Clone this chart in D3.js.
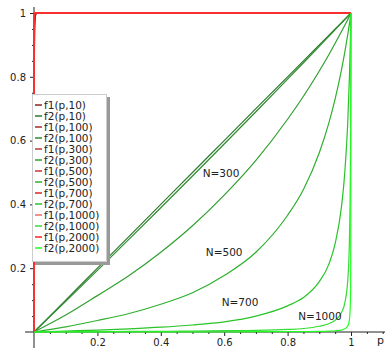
<!DOCTYPE html>
<html>
<head>
<meta charset="utf-8">
<script src="https://cdn.jsdelivr.net/npm/d3@7"></script>
<style>
  body { margin: 0; background: #fff; }
  svg { display: block; font-family: "DejaVu Sans", sans-serif; }
</style>
</head>
<body>
<div id="chart"></div>
<script>
// N values of the curves
const nValues = [10, 100, 300, 500, 700, 1000, 2000];

// p grid for f1 (all jump up right at p = 0)
const pF1 = [0, 0.0002, 0.0005, 0.001, 0.002, 0.004, 0.008, 1];
const f1Values = [
  [0, 0.35, 0.6, 0.85, 0.95, 0.99, 1, 1],
  [0, 0.45, 0.7, 0.9, 0.97, 1, 1, 1],
  [0, 0.55, 0.8, 0.95, 0.99, 1, 1, 1],
  [0, 0.65, 0.88, 0.97, 1, 1, 1, 1],
  [0, 0.75, 0.92, 0.99, 1, 1, 1, 1],
  [0, 0.85, 0.96, 1, 1, 1, 1, 1],
  [0, 0.95, 0.99, 1, 1, 1, 1, 1]
];

// p grid for f2
const pF2 = [0, 0.1, 0.2, 0.3, 0.4, 0.5, 0.6, 0.7, 0.8, 0.85, 0.9, 0.93, 0.95, 0.97, 0.98, 0.99, 0.995, 0.998, 0.999, 1];
const f2Values = [
  [0, 0.1, 0.2, 0.3, 0.4, 0.5, 0.6, 0.7, 0.8, 0.85, 0.9, 0.93, 0.95, 0.97, 0.98, 0.99, 0.995, 0.998, 0.999, 1],
  [0, 0.0962, 0.1932, 0.291, 0.3896, 0.489, 0.5893, 0.6905, 0.7927, 0.8441, 0.8958, 0.9268, 0.9477, 0.9685, 0.979, 0.9895, 0.9947, 0.9979, 0.999, 1],
  [0, 0.053, 0.114, 0.177, 0.25, 0.333, 0.429, 0.538, 0.667, 0.739, 0.818, 0.869, 0.905, 0.942, 0.961, 0.98, 0.99, 0.996, 0.998, 1],
  [0, 0.016, 0.036, 0.058, 0.087, 0.123, 0.177, 0.25, 0.366, 0.447, 0.562, 0.655, 0.731, 0.822, 0.875, 0.934, 0.966, 0.986, 0.993, 1],
  [0, 0.003, 0.006, 0.01, 0.015, 0.022, 0.032, 0.05, 0.082, 0.108, 0.158, 0.212, 0.277, 0.393, 0.495, 0.664, 0.799, 0.909, 0.952, 1],
  [0, 0.001, 0.001, 0.002, 0.002, 0.003, 0.004, 0.005, 0.008, 0.011, 0.018, 0.026, 0.037, 0.061, 0.089, 0.165, 0.285, 0.5, 0.666, 1],
  [0, 0, 0, 0, 0, 0, 0, 0.001, 0.001, 0.001, 0.002, 0.003, 0.004, 0.006, 0.01, 0.019, 0.038, 0.091, 0.167, 1]
];

const f1Colors = ["#8e2323", "#a52a2a", "#b83a3a", "#cc3333", "#d42a2a", "#ee6b6b", "#ff2020"];
const f2Colors = ["#2e7a2e", "#2e8b2e", "#30a030", "#2fb02f", "#28c428", "#33dd33", "#22ff22"];

// annotation labels
const annoText = ["N=300", "N=500", "N=700", "N=1000"];
const annoP = [0.59, 0.6, 0.65, 0.902];
const annoV = [0.5, 0.251, 0.094, 0.05];

const majorTicks = [0.2, 0.4, 0.6, 0.8, 1];
const xMinor = d3.range(1, 23).map(i => i * 0.05).filter(t => Math.abs(t * 5 - Math.round(t * 5)) > 1e-6);
const yMinor = d3.range(1, 20).map(i => i * 0.05).filter(t => Math.abs(t * 5 - Math.round(t * 5)) > 1e-6);

const width = 385, height = 348;
const svg = d3.select("#chart").append("svg")
  .attr("width", width)
  .attr("height", height);

const x = d3.scaleLinear().domain([0, 1]).range([34, 351]);
const y = d3.scaleLinear().domain([0, 1]).range([332, 13]);

// axis lines
svg.append("line").attr("x1", 25).attr("x2", width).attr("y1", y(0)).attr("y2", y(0))
  .attr("stroke", "#222").attr("stroke-width", 1);
svg.append("line").attr("x1", x(0)).attr("x2", x(0)).attr("y1", 348).attr("y2", 7)
  .attr("stroke", "#222").attr("stroke-width", 1);

// x ticks
const xAxis = svg.append("g").attr("transform", `translate(0,${y(0)})`)
  .call(d3.axisBottom(x).tickValues(majorTicks).tickSize(4).tickPadding(3).tickFormat(d3.format("")));
xAxis.select(".domain").remove();
const xAxisMinor = svg.append("g").attr("transform", `translate(0,${y(0)})`)
  .call(d3.axisBottom(x).tickValues(xMinor).tickSize(2).tickFormat(""));
xAxisMinor.select(".domain").remove();

// y ticks
const yAxis = svg.append("g").attr("transform", `translate(${x(0)},0)`)
  .call(d3.axisLeft(y).tickValues(majorTicks).tickSize(4).tickPadding(4).tickFormat(d3.format("")));
yAxis.select(".domain").remove();
const yAxisMinor = svg.append("g").attr("transform", `translate(${x(0)},0)`)
  .call(d3.axisLeft(y).tickValues(yMinor).tickSize(2).tickFormat(""));
yAxisMinor.select(".domain").remove();

svg.selectAll(".tick line").attr("stroke", "#222");
svg.selectAll(".tick text").attr("font-size", 10).attr("fill", "#222")
  .attr("font-family", "DejaVu Sans, sans-serif");

svg.append("text").attr("x", 377).attr("y", 344).attr("font-size", 11).attr("fill", "#222").text("p");

// curves
const lineF1 = d3.line().x(d => x(d[0])).y(d => y(d[1]));
const lineF2 = d3.line().x(d => x(d[0])).y(d => y(d[1])).curve(d3.curveMonotoneX);
const plot = svg.append("g");
nValues.forEach((n, i) => {
  plot.append("path")
    .datum(pF1.map((p, j) => [p, f1Values[i][j]]))
    .attr("fill", "none").attr("stroke", f1Colors[i]).attr("stroke-width", 1.3)
    .attr("d", lineF1);
  plot.append("path")
    .datum(pF2.map((p, j) => [p, f2Values[i][j]]))
    .attr("fill", "none").attr("stroke", f2Colors[i]).attr("stroke-width", 1.2)
    .attr("d", lineF2);
});

// annotations
svg.selectAll("text.anno").data(annoText).enter().append("text")
  .attr("class", "anno")
  .attr("x", (d, i) => x(annoP[i]))
  .attr("y", (d, i) => y(annoV[i]))
  .attr("text-anchor", "middle").attr("dominant-baseline", "central")
  .attr("font-size", 10.5).attr("fill", "#222")
  .text(d => d);

// legend
const legendLabels = [];
const legendColors = [];
nValues.forEach((n, i) => {
  legendLabels.push(`f1(p,${n})`, `f2(p,${n})`);
  legendColors.push(f1Colors[i], f2Colors[i]);
});
const lg = svg.append("g");
lg.append("rect").attr("x", 35).attr("y", 97).attr("width", 75).attr("height", 168).attr("fill", "#999");
lg.append("rect").attr("x", 32.5).attr("y", 94.5).attr("width", 74).attr("height", 167)
  .attr("fill", "#fff").attr("stroke", "#ccc").attr("stroke-width", 1);
legendLabels.forEach((lab, i) => {
  const ry = 105 + i * 11;
  lg.append("line").attr("x1", 35).attr("x2", 42).attr("y1", ry).attr("y2", ry)
    .attr("stroke", legendColors[i]).attr("stroke-width", 1.5);
  lg.append("text").attr("x", 44).attr("y", ry).attr("dominant-baseline", "central")
    .attr("font-size", 10.5).attr("fill", "#222").text(lab);
});
</script>
</body>
</html>
